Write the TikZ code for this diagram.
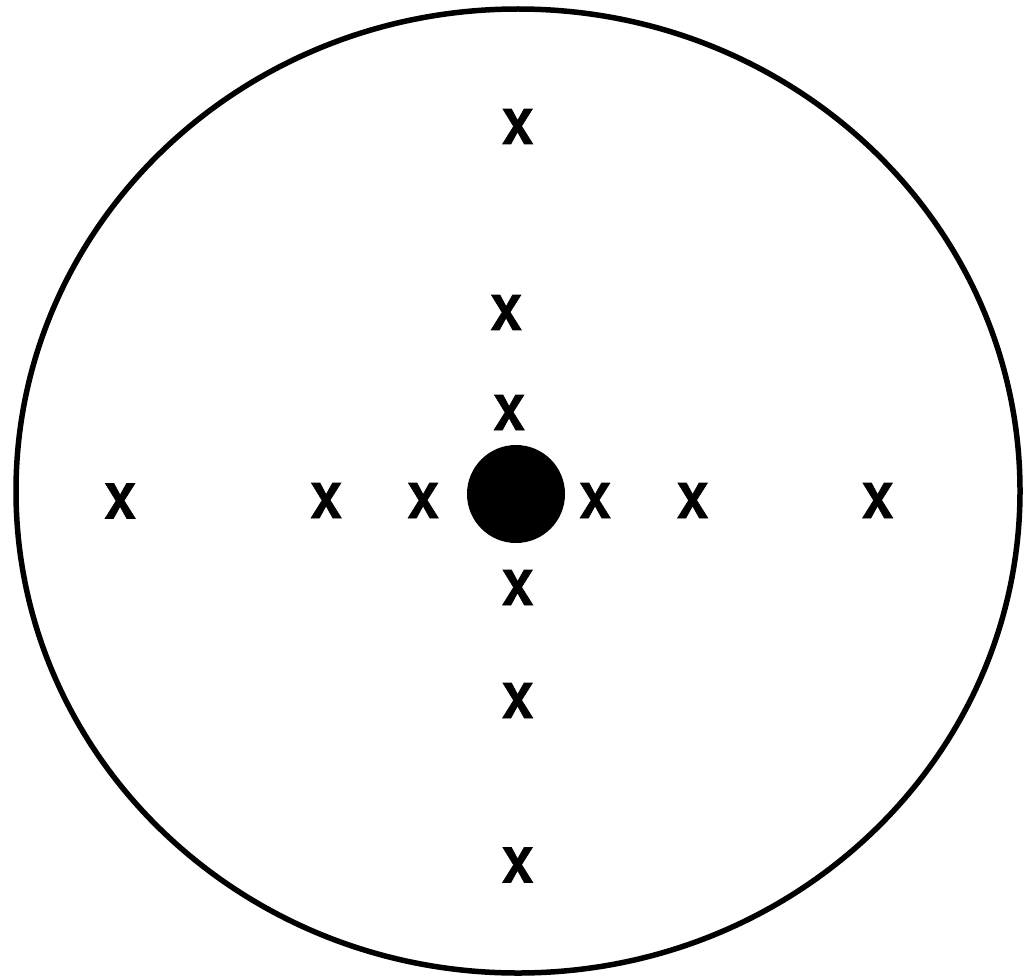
\documentclass[tikz,border=0pt]{standalone}
\usepackage{fontspec}
\setmainfont{TeX Gyre Heros}[BoldFeatures={FakeBold=1.2}]
\begin{document}
\begin{tikzpicture}[x=1pt,y=-1pt,
  xmark/.style={inner sep=0pt,font=\fontsize{48}{48}\selectfont\bfseries},
  ring/.style={draw=black,line width=5.5pt},
  dot/.style={circle,fill=black,inner sep=0pt,minimum size=98pt}]
\useasboundingbox (0,0) rectangle (1030,979);
\draw[ring] (518,491) ellipse [x radius=502, y radius=482];
\node[dot] (hub) at (516,494) {};
\node[xmark] (n1) at (517.5,126.5) {X};
\node[xmark] (n2) at (506,312.5) {X};
\node[xmark] (n3) at (509,412.5) {X};
\node[xmark] (w3) at (120,501) {X};
\node[xmark] (w2) at (326,500.5) {X};
\node[xmark] (w1) at (423,500.5) {X};
\node[xmark] (e1) at (595,500.5) {X};
\node[xmark] (e2) at (692.5,500.5) {X};
\node[xmark] (e3) at (877.5,500.5) {X};
\node[xmark] (s1) at (517.5,587.5) {X};
\node[xmark] (s2) at (517.5,700.5) {X};
\node[xmark] (s3) at (517.5,865) {X};
\end{tikzpicture}
\end{document}
